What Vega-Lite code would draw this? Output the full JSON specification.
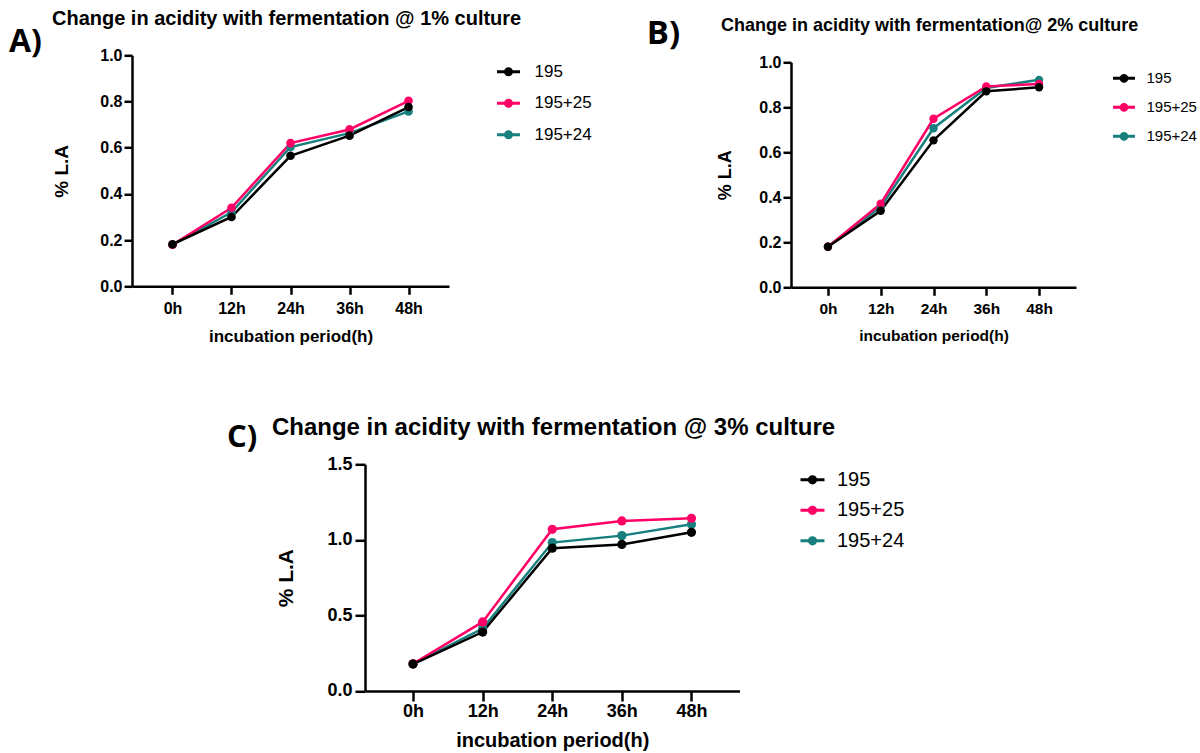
{
  "$schema": "https://vega.github.io/schema/vega-lite/v6.json",
  "padding": {"left": 9, "top": 8.3, "right": 2, "bottom": 1},
  "datasets": {
    "d": [
      {"panel": "A", "series": "195+24", "time": "0h", "value": 0.18},
      {"panel": "A", "series": "195+24", "time": "12h", "value": 0.32},
      {"panel": "A", "series": "195+24", "time": "24h", "value": 0.603},
      {"panel": "A", "series": "195+24", "time": "36h", "value": 0.663},
      {"panel": "A", "series": "195+24", "time": "48h", "value": 0.757},
      {"panel": "A", "series": "195+25", "time": "0h", "value": 0.18},
      {"panel": "A", "series": "195+25", "time": "12h", "value": 0.34},
      {"panel": "A", "series": "195+25", "time": "24h", "value": 0.62},
      {"panel": "A", "series": "195+25", "time": "36h", "value": 0.679},
      {"panel": "A", "series": "195+25", "time": "48h", "value": 0.803},
      {"panel": "A", "series": "195", "time": "0h", "value": 0.182},
      {"panel": "A", "series": "195", "time": "12h", "value": 0.3},
      {"panel": "A", "series": "195", "time": "24h", "value": 0.565},
      {"panel": "A", "series": "195", "time": "36h", "value": 0.652},
      {"panel": "A", "series": "195", "time": "48h", "value": 0.776},
      {"panel": "B", "series": "195+24", "time": "0h", "value": 0.18},
      {"panel": "B", "series": "195+24", "time": "12h", "value": 0.357},
      {"panel": "B", "series": "195+24", "time": "24h", "value": 0.707},
      {"panel": "B", "series": "195+24", "time": "36h", "value": 0.886},
      {"panel": "B", "series": "195+24", "time": "48h", "value": 0.922},
      {"panel": "B", "series": "195+25", "time": "0h", "value": 0.18},
      {"panel": "B", "series": "195+25", "time": "12h", "value": 0.372},
      {"panel": "B", "series": "195+25", "time": "24h", "value": 0.749},
      {"panel": "B", "series": "195+25", "time": "36h", "value": 0.893},
      {"panel": "B", "series": "195+25", "time": "48h", "value": 0.904},
      {"panel": "B", "series": "195", "time": "0h", "value": 0.18},
      {"panel": "B", "series": "195", "time": "12h", "value": 0.34},
      {"panel": "B", "series": "195", "time": "24h", "value": 0.653},
      {"panel": "B", "series": "195", "time": "36h", "value": 0.871},
      {"panel": "B", "series": "195", "time": "48h", "value": 0.889},
      {"panel": "C", "series": "195+24", "time": "0h", "value": 0.18},
      {"panel": "C", "series": "195+24", "time": "12h", "value": 0.413},
      {"panel": "C", "series": "195+24", "time": "24h", "value": 0.982},
      {"panel": "C", "series": "195+24", "time": "36h", "value": 1.028},
      {"panel": "C", "series": "195+24", "time": "48h", "value": 1.103},
      {"panel": "C", "series": "195+25", "time": "0h", "value": 0.18},
      {"panel": "C", "series": "195+25", "time": "12h", "value": 0.457},
      {"panel": "C", "series": "195+25", "time": "24h", "value": 1.07},
      {"panel": "C", "series": "195+25", "time": "36h", "value": 1.125},
      {"panel": "C", "series": "195+25", "time": "48h", "value": 1.143},
      {"panel": "C", "series": "195", "time": "0h", "value": 0.178},
      {"panel": "C", "series": "195", "time": "12h", "value": 0.39},
      {"panel": "C", "series": "195", "time": "24h", "value": 0.945},
      {"panel": "C", "series": "195", "time": "36h", "value": 0.97},
      {"panel": "C", "series": "195", "time": "48h", "value": 1.05}
    ]
  },
  "data": {"name": "d"},
  "resolve": {"scale": {"color": "independent"}, "legend": {"color": "independent"}},
  "spacing": 72,
  "center": true,
  "vconcat": [
    {
      "spacing": 50,
      "resolve": {"scale": {"color": "independent"}, "legend": {"color": "independent"}},
      "hconcat": [
        {
          "title": {"text": "A)", "font": "Open Sans", "fontSize": 32, "fontWeight": "bold", "color": "black", "anchor": "start", "offset": 0, "dx": -43, "dy": 50},
          "resolve": {"scale": {"color": "independent"}, "legend": {"color": "independent"}},
          "hconcat": [
            {
              "width": 317,
              "height": 231,
              "title": {"text": "Change in acidity with fermentation @ 1% culture", "fontSize": 20, "anchor": "start", "frame": "group", "dx": -80, "offset": 18.7},
              "transform": [{"filter": "datum.panel == 'A'"}],
              "encoding": {
                "x": {"field": "time", "type": "ordinal", "sort": ["0h", "12h", "24h", "36h", "48h"], "scale": {"type": "point", "padding": 0.686},
                      "axis": {"title": "incubation period(h)", "titleFontSize": 17, "labelFontSize": 16}},
                "y": {"field": "value", "type": "quantitative", "scale": {"domain": [0, 1]},
                      "axis": {"values": [0, 0.2, 0.4, 0.6, 0.8, 1.0], "format": ".1f", "title": "% L.A", "titleFontSize": 19, "labelFontSize": 16}},
                "color": {"field": "series", "type": "nominal", "scale": {"domain": ["195", "195+25", "195+24"], "range": ["#000000", "#FF0066", "#17807F"]},
                          "legend": {"offset": 42.5, "padding": 3.5, "symbolSize": 529, "labelFontSize": 17, "labelOffset": 13, "rowPadding": 9.5}}
              },
              "layer": [
                {"mark": {"type": "line", "strokeWidth": 2.5}},
                {"mark": {"type": "point", "filled": true, "size": 75, "opacity": 1}}
              ]
            }
          ]
        },
        {
          "title": {"text": "B)", "font": "Open Sans", "fontSize": 33, "fontWeight": "bold", "color": "black", "anchor": "start", "offset": 0, "dx": -70, "dy": 34},
          "resolve": {"scale": {"color": "independent"}, "legend": {"color": "independent"}},
          "hconcat": [
            {
              "width": 285,
              "height": 232,
              "title": {"text": "Change in acidity with fermentation@ 2% culture", "fontSize": 18, "anchor": "start", "frame": "group", "dx": -70, "offset": 19.4},
              "transform": [{"filter": "datum.panel == 'B'"}],
              "encoding": {
                "x": {"field": "time", "type": "ordinal", "sort": ["0h", "12h", "24h", "36h", "48h"], "scale": {"type": "point", "padding": 0.7},
                      "axis": {"title": "incubation period(h)", "titleFontSize": 15.5, "labelFontSize": 15.5}},
                "y": {"field": "value", "type": "quantitative", "scale": {"domain": [0, 1], "range": [232, 7]},
                      "axis": {"values": [0, 0.2, 0.4, 0.6, 0.8, 1.0], "format": ".1f", "title": "% L.A", "titleFontSize": 18, "labelFontSize": 16, "titlePadding": 24}},
                "color": {"field": "series", "type": "nominal", "scale": {"domain": ["195", "195+25", "195+24"], "range": ["#000000", "#FF0066", "#17807F"]},
                          "legend": {"offset": 25, "padding": 10.5, "symbolSize": 484, "labelFontSize": 15, "labelOffset": 10, "rowPadding": 7}}
              },
              "layer": [
                {"mark": {"type": "line", "strokeWidth": 2.5}},
                {"mark": {"type": "point", "filled": true, "size": 70, "opacity": 1}}
              ]
            }
          ]
        }
      ]
    },
    {
      "title": {"text": "C)", "font": "Open Sans", "fontSize": 31, "fontWeight": "bold", "color": "black", "anchor": "start", "offset": 0, "dx": -45, "dy": 38},
      "resolve": {"scale": {"color": "independent"}, "legend": {"color": "independent"}},
      "hconcat": [
        {
          "width": 374.5,
          "height": 226.7,
          "title": {"text": "Change in acidity with fermentation @ 3% culture", "fontSize": 24, "anchor": "start", "frame": "group", "dx": -93, "offset": 15},
          "transform": [{"filter": "datum.panel == 'C'"}],
          "encoding": {
            "x": {"field": "time", "type": "ordinal", "sort": ["0h", "12h", "24h", "36h", "48h"], "scale": {"type": "point", "padding": 0.69},
                  "axis": {"title": "incubation period(h)", "titleFontSize": 20, "labelFontSize": 18, "tickSize": 10, "labelPadding": 2, "titlePadding": 10}},
            "y": {"field": "value", "type": "quantitative", "scale": {"domain": [0, 1.5]},
                  "axis": {"values": [0, 0.5, 1.0, 1.5], "format": ".1f", "title": "% L.A", "titleFontSize": 21, "labelFontSize": 18, "tickSize": 10, "labelPadding": 3, "titlePadding": 30}},
            "color": {"field": "series", "type": "nominal", "scale": {"domain": ["195", "195+25", "195+24"], "range": ["#000000", "#FF0066", "#17807F"]},
                      "legend": {"offset": 57, "padding": 2, "symbolSize": 576, "labelFontSize": 20, "labelOffset": 11, "rowPadding": 6.5,
                                 "symbolType": "M-1,0L1,0M-0.26,0A0.26,0.26 0 1,0 0.26,0A0.26,0.26 0 1,0 -0.26,0ZM12.8,0"}}
          },
          "layer": [
            {"mark": {"type": "line", "strokeWidth": 2.5}},
            {"mark": {"type": "point", "filled": true, "size": 85, "opacity": 1}}
          ]
        }
      ]
    }
  ],
  "config": {
    "view": {"stroke": null},
    "font": "Liberation Sans",
    "title": {"font": "Liberation Sans", "fontWeight": "bold", "color": "black"},
    "axis": {"domainColor": "black", "domainWidth": 2.5, "tickColor": "black", "tickWidth": 2.5, "tickSize": 8, "labelColor": "black", "labelFont": "Liberation Sans", "labelFontWeight": "bold", "titleFont": "Liberation Sans", "titleFontWeight": "bold", "titleColor": "black", "grid": false},
    "axisX": {"labelAngle": 0, "labelPadding": 6, "titlePadding": 12},
    "axisY": {"labelPadding": 2, "titlePadding": 28},
    "legend": {"title": null, "orient": "right", "labelFont": "Liberation Sans", "labelColor": "black", "symbolType": "M-1,0L1,0M-0.26,0A0.26,0.26 0 1,0 0.26,0A0.26,0.26 0 1,0 -0.26,0Z", "symbolStrokeWidth": 3}
  }
}
